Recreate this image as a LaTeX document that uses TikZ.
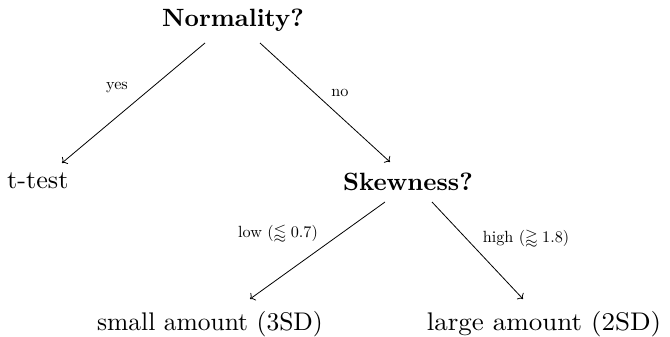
\documentclass[tikz,border=0pt]{standalone}
\usepackage{amssymb}
\usepackage{graphicx}
\usetikzlibrary{arrows.meta}
\newcommand{\bigtxt}[2][2.55]{\scalebox{#1}[2.55]{#2}}
\newcommand{\bigbf}[1]{\scalebox{2.5}{\bfseries #1}}
\newcommand{\labtxt}[1]{\scalebox{1.62}{#1}}
\begin{document}
\begin{tikzpicture}[x=1pt,y=-1pt,
  main/.style={anchor=base,inner sep=0pt,font=\fontsize{10}{12}\selectfont},
  lab/.style={anchor=base,inner sep=0pt,font=\fontsize{10}{12}\selectfont},
  edge/.style={-{To[scale=1.3]},line width=0.8pt}]
\useasboundingbox (0,0) rectangle (670,337);
\node[main] (norm) at (233,27) {\bigbf{Normality?}};
\node[main,anchor=base west] (ttest) at (7,188) {\bigtxt[2.62]{t-test}};
\node[main] (skew) at (408,190) {\bigbf{Skewness?}};
\node[main] (small) at (210,330) {\bigtxt{small amount (3SD)}};
\node[main] (large) at (544,330) {\bigtxt[2.7]{large amount (2SD)}};
\coordinate (n1) at (205,43);
\coordinate (n2) at (260,43);
\coordinate (t1) at (62,163);
\coordinate (s0) at (390,162);
\coordinate (s1) at (385,202);
\coordinate (s2) at (432,202);
\coordinate (m1) at (250,299);
\coordinate (l1) at (523,299);
\draw[edge] (n1) -- (t1);
\draw[edge] (n2) -- (s0);
\draw[edge] (s1) -- (m1);
\draw[edge] (s2) -- (l1);
\node[lab] (lyes) at (117,90) {\labtxt{yes}};
\node[lab] (lno) at (340,96) {\labtxt{no}};
\node[lab] (llow) at (278,237) {\labtxt{low ($\lessapprox 0.7$)}};
\node[lab] (lhigh) at (526,242) {\labtxt{high ($\gtrapprox 1.8$)}};
\end{tikzpicture}
\end{document}
